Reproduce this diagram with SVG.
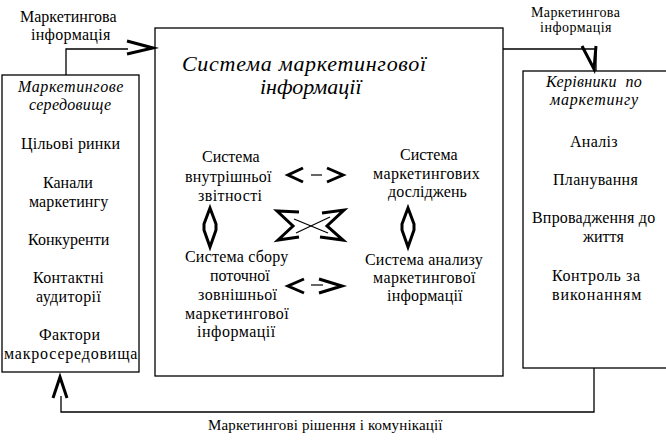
<svg xmlns="http://www.w3.org/2000/svg" width="666" height="447" viewBox="0 0 666 447">
<rect width="666" height="447" fill="#fff"/>
<g id="label-top-left">
<text x="20" y="22" font-family="Liberation Serif" font-size="16">Маркетингова</text>
<text x="31" y="40" font-family="Liberation Serif" font-size="16" letter-spacing="0.3">інформація</text>
</g>
<g id="label-top-right">
<text x="531" y="17" font-family="Liberation Serif" font-size="14" letter-spacing="0.4">Маркетингова</text>
<text x="540" y="32" font-family="Liberation Serif" font-size="14" letter-spacing="0.5">інформація</text>
</g>
<g id="label-bottom">
<text x="208" y="430" font-family="Liberation Serif" font-size="15" letter-spacing="0.15">Маркетингові рішення і комунікації</text>
</g>
<g id="node-environment">
<rect x="2" y="75" width="137" height="297" fill="#fff" stroke="#000" stroke-width="1.3"/>
<text x="18" y="92" font-family="Liberation Serif" font-size="16" font-style="italic" letter-spacing="0.6">Маркетингове</text>
<text x="29" y="110" font-family="Liberation Serif" font-size="16" font-style="italic" letter-spacing="0.3">середовище</text>
<text x="21" y="149" font-family="Liberation Serif" font-size="16" letter-spacing="0.2">Цільові ринки</text>
<text x="43" y="188" font-family="Liberation Serif" font-size="16">Канали</text>
<text x="29" y="207" font-family="Liberation Serif" font-size="16" letter-spacing="0.1">маркетингу</text>
<text x="28" y="245" font-family="Liberation Serif" font-size="16">Конкуренти</text>
<text x="33" y="283" font-family="Liberation Serif" font-size="16" letter-spacing="0.3">Контактні</text>
<text x="36" y="302" font-family="Liberation Serif" font-size="16" letter-spacing="0.4">аудиторії</text>
<text x="39" y="340" font-family="Liberation Serif" font-size="16" letter-spacing="0.4">Фактори</text>
<text x="4" y="359" font-family="Liberation Serif" font-size="16" letter-spacing="0.8">макросередовища</text>
</g>
<g id="node-mis">
<rect x="155" y="28" width="348" height="348" fill="#fff" stroke="#000" stroke-width="1.3"/>
<text x="182" y="71" font-family="Liberation Serif" font-size="22" font-style="italic" letter-spacing="0.7">Система маркетингової</text>
<text x="260" y="94" font-family="Liberation Serif" font-size="22" font-style="italic">інформації</text>
</g>
<g id="node-internal">
<text x="202" y="162" font-family="Liberation Serif" font-size="16">Система</text>
<text x="185" y="182" font-family="Liberation Serif" font-size="16" letter-spacing="0.2">внутрішньої</text>
<text x="198" y="201" font-family="Liberation Serif" font-size="16" letter-spacing="0.4">звітності</text>
</g>
<g id="node-research">
<text x="400" y="160" font-family="Liberation Serif" font-size="16">Система</text>
<text x="373" y="179" font-family="Liberation Serif" font-size="16" letter-spacing="0.4">маркетингових</text>
<text x="388" y="197" font-family="Liberation Serif" font-size="16" letter-spacing="0.1">досліджень</text>
</g>
<g id="node-collection">
<text x="185" y="262" font-family="Liberation Serif" font-size="16" letter-spacing="0.2">Система сбору</text>
<text x="210" y="281" font-family="Liberation Serif" font-size="16">поточної</text>
<text x="198" y="300" font-family="Liberation Serif" font-size="16" letter-spacing="0.4">зовнішньої</text>
<text x="185" y="319" font-family="Liberation Serif" font-size="16" letter-spacing="0.5">маркетингової</text>
<text x="197" y="337" font-family="Liberation Serif" font-size="16" letter-spacing="0.5">інформації</text>
</g>
<g id="node-analysis">
<text x="365" y="265" font-family="Liberation Serif" font-size="16" letter-spacing="0.2">Система анализу</text>
<text x="373" y="283" font-family="Liberation Serif" font-size="16" letter-spacing="0.4">маркетингової</text>
<text x="387" y="301" font-family="Liberation Serif" font-size="16" letter-spacing="0.2">інформації</text>
</g>
<g id="node-managers">
<rect x="523" y="71" width="150" height="297" fill="#fff" stroke="#000" stroke-width="1.3"/>
<text x="546" y="87" font-family="Liberation Serif" font-size="16" font-style="italic" letter-spacing="0.3" xml:space="preserve">Керівники  по</text>
<text x="550" y="105" font-family="Liberation Serif" font-size="16" font-style="italic" letter-spacing="0.8">маркетингу</text>
<text x="570" y="147" font-family="Liberation Serif" font-size="16" letter-spacing="0.3">Аналіз</text>
<text x="553" y="185" font-family="Liberation Serif" font-size="16" letter-spacing="0.3">Планування</text>
<text x="532" y="223" font-family="Liberation Serif" font-size="16" letter-spacing="0.2">Впровадження до</text>
<text x="583" y="242" font-family="Liberation Serif" font-size="16">життя</text>
<text x="552" y="281" font-family="Liberation Serif" font-size="16" letter-spacing="0.6">Контроль за</text>
<text x="552" y="300" font-family="Liberation Serif" font-size="16" letter-spacing="0.9">виконанням</text>
</g>
<g id="connectors" fill="none" stroke="#000">
<g stroke-width="1.3">
<path d="M66,75 V49 H128"/>
<path d="M503,49 H596 V71"/>
<path d="M594,368 V412 H61 V396"/>
</g>
<g stroke-width="1.2">
<line x1="311" y1="175" x2="322" y2="175"/>
<line x1="311" y1="285" x2="323" y2="285"/>
<line x1="294" y1="219" x2="328" y2="233"/>
<line x1="296" y1="233" x2="330" y2="217"/>
</g>
<g stroke-width="3" stroke-linejoin="miter" stroke-miterlimit="10">
<polyline points="127,41 153,48 127,54"/>
<polyline points="582,46 594,69 596,46"/>
<polyline points="53,398 60,377 67,398"/>
<polyline points="303,168 288,175 303,182"/>
<polyline points="327,168 343,175 327,182"/>
<polyline points="304,279 288,286 304,293"/>
<polyline points="319,279 342,286 319,293"/>
<path d="M210,208 L216,224 L216,230 L210,247 L204,230 L204,224 Z"/>
<path d="M408,208 L414,224 L414,230 L408,247 L402,230 L402,224 Z"/>
<polyline points="299,212 277,211 293,226 278,240 299,237"/>
<polyline points="322,213 344,210 327,226 343,240 320,237"/>
</g>
</g>
</svg>
